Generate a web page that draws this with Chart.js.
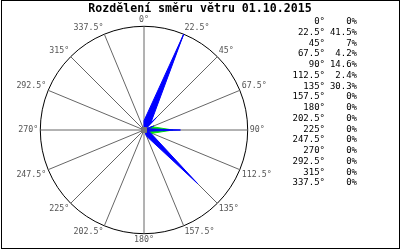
<!DOCTYPE html>
<html><head><meta charset="utf-8">
<script src="https://cdn.jsdelivr.net/npm/chart.js@4.4.1/dist/chart.umd.min.js"></script>
<style>
html,body{margin:0;padding:0;background:#fff;}
#wrap{position:relative;width:400px;height:250px;overflow:hidden;background:#fff;}
#c{position:absolute;left:0;top:0;}
#title{position:absolute;left:0;top:0;width:400px;text-align:center;font-family:"DejaVu Sans Mono",monospace;font-weight:bold;font-size:11.6px;line-height:16px;color:#000;white-space:pre;}
#frame{position:absolute;left:1px;top:0;width:397px;height:247px;border:1px solid #000;pointer-events:none;}
.row{position:absolute;left:0;width:400px;height:12px;line-height:12px;font-family:"DejaVu Sans Mono",monospace;font-size:9px;color:#000;}
.row span{position:absolute;top:0;white-space:pre;}
</style></head>
<body>
<div id="wrap">
<canvas id="c" width="400" height="250"></canvas>
<div id="title">Rozdělení směru větru 01.10.2015</div>
<div id="legend"></div>
<div id="frame"></div>
</div>
<script>
const directions = ['0°','22.5°','45°','67.5°','90°','112.5°','135°','157.5°','180°','202.5°','225°','247.5°','270°','292.5°','315°','337.5°'];
const shares = [0, 41.5, 7, 4.2, 14.6, 2.4, 30.3, 0, 0, 0, 0, 0, 0, 0, 0, 0];
const secondary = [0, 0, 0, 0, 11.6, 0, 0, 0, 0, 0, 0, 0, 0, 0, 0, 0];

// legend rows (text)
const legend = document.getElementById('legend');
directions.forEach((d, i) => {
  const row = document.createElement('div');
  row.className = 'row';
  row.style.top = (15 + i * 10.75) + 'px';
  const a = document.createElement('span'); a.textContent = d; a.style.right = '75px';
  const b = document.createElement('span'); b.textContent = shares[i] + '%'; b.style.right = '43px';
  row.appendChild(a); row.appendChild(b);
  legend.appendChild(row);
});

const maxShare = Math.max(...shares);
const n = directions.length;
function kite(values, i, k) {
  const d = new Array(n).fill(0);
  d[i] = values[i];
  d[(i + 1) % n] = values[i] * k;
  d[(i - 1 + n) % n] = values[i] * k;
  return d;
}
const datasets = [];
// center dot
datasets.push({ data: new Array(n).fill(0), borderWidth: 0, fill: false, pointRadius: 3, pointBackgroundColor: '#777', pointBorderWidth: 0, order: 1 });
shares.forEach((v, i) => {
  if (v > 0) datasets.push({ data: kite(shares, i, 0.09), backgroundColor: '#0000ff', borderColor: '#0000ff', borderWidth: 1, fill: true, pointRadius: 0, order: 2 });
});
secondary.forEach((v, i) => {
  if (v > 0) datasets.push({ data: kite(secondary, i, 0.3), backgroundColor: '#00ee00', borderColor: '#00ee00', borderWidth: 1, fill: true, pointRadius: 0, order: 3 });
});

new Chart(document.getElementById('c'), {
  type: 'radar',
  data: { labels: directions, datasets },
  options: {
    responsive: false, animation: false, devicePixelRatio: 1,
    layout: { padding: { left: 6, right: 118, top: 16, bottom: 5 } },
    plugins: { legend: { display: false }, tooltip: { enabled: false }, title: { display: false } },
    elements: { line: { tension: 0 } },
    scales: {
      r: {
        min: 0, max: maxShare, startAngle: 0,
        ticks: { display: false, stepSize: maxShare },
        grid: { circular: true, color: '#000', lineWidth: 1 },
        angleLines: { color: '#666', lineWidth: 1 },
        pointLabels: { font: { family: 'DejaVu Sans Mono', size: 8.3, lineHeight: 1 }, color: '#555', padding: 2 }
      }
    }
  }
});
</script>
</body></html>
